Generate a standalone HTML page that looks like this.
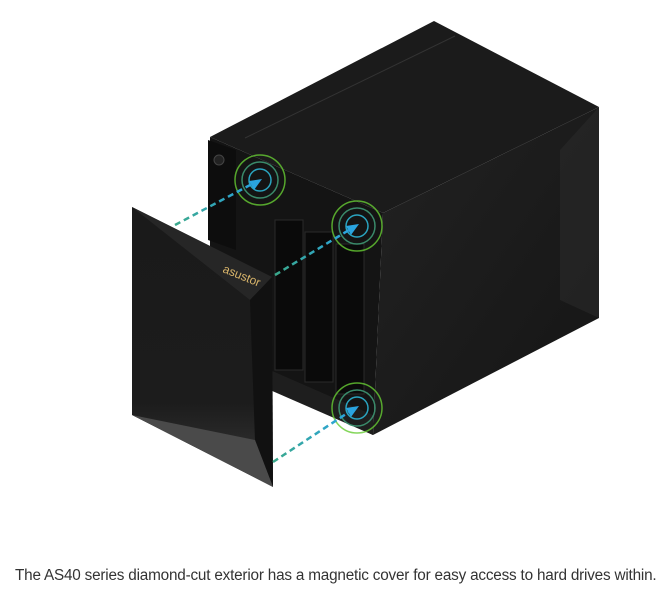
<!DOCTYPE html>
<html><head><style>
body{margin:0;background:#fff;width:671px;height:604px;overflow:hidden;font-family:"Liberation Sans",sans-serif}
.cap{position:absolute;left:15px;top:567px;font-size:15.3px;color:#333;white-space:nowrap;letter-spacing:-0.2px}
</style></head><body>
<svg width="671" height="560" style="position:absolute;left:0;top:0">
<defs>
<linearGradient id="rf" x1="0" y1="0" x2="1" y2="1"><stop offset="0" stop-color="#222"/><stop offset="1" stop-color="#151515"/></linearGradient>
<linearGradient id="cv" x1="0" y1="0" x2="0" y2="1"><stop offset="0" stop-color="#1a1a1a"/><stop offset="0.7" stop-color="#1c1c1c"/><stop offset="1" stop-color="#3a3a3a"/></linearGradient>
<linearGradient id="ar" x1="0" y1="0" x2="1" y2="0"><stop offset="0" stop-color="#3aa88a"/><stop offset="1" stop-color="#2aa4e0"/></linearGradient>
</defs>
<polygon points="210,137 434,21 599,107 383,213" fill="#1b1b1b"/>
<line x1="245" y1="138" x2="455" y2="36" stroke="#333" stroke-width="1"/>
<polygon points="383,213 599,107 599,318 373,435" fill="url(#rf)"/>
<polygon points="560,150 599,107 599,318 560,300" fill="#2a2a2a" opacity="0.6"/>
<polygon points="210,137 383,213 373,435 210,360" fill="#141414"/>
<polygon points="208,140 236,150 236,250 208,240" fill="#0d0d0d"/>
<circle cx="219" cy="160" r="5" fill="#222" stroke="#444"/>
<g fill="#0a0a0a" stroke="#2a2a2a">
<rect x="275" y="220" width="28" height="150"/><rect x="305" y="232" width="28" height="150"/><rect x="336" y="244" width="28" height="150"/>
</g>
<polygon points="270,390 373,435 373,415 270,370" fill="#1e1e1e"/>
<g fill="none">
<circle cx="260" cy="180" r="25" stroke="#6c3" stroke-width="1.5" opacity="0.8"/><circle cx="260" cy="180" r="18" stroke="#3a8a6a" stroke-width="1.5"/><circle cx="260" cy="180" r="11" stroke="#2aa4c0" stroke-width="1.5"/>
<circle cx="357" cy="226" r="25" stroke="#6c3" stroke-width="1.5" opacity="0.8"/><circle cx="357" cy="226" r="18" stroke="#3a8a6a" stroke-width="1.5"/><circle cx="357" cy="226" r="11" stroke="#2aa4c0" stroke-width="1.5"/>
<circle cx="357" cy="408" r="25" stroke="#6c3" stroke-width="1.5" opacity="0.8"/><circle cx="357" cy="408" r="18" stroke="#3a8a6a" stroke-width="1.5"/><circle cx="357" cy="408" r="11" stroke="#2aa4c0" stroke-width="1.5"/>
</g>
<polygon points="132,207 272,277 273,487 132,415" fill="url(#cv)"/>
<polygon points="132,207 272,277 250,300" fill="#262626"/>
<polygon points="250,300 272,277 273,487 255,440" fill="#111"/>
<polygon points="132,415 255,440 273,487" fill="#4a4a4a"/>
<text x="222" y="272" fill="#d9b56a" font-size="12" font-family="Liberation Sans,sans-serif" transform="rotate(22 222 272)">asustor</text>
<g stroke="url(#ar)" stroke-width="2.5" stroke-dasharray="6,4" fill="none">
<line x1="175" y1="225" x2="252" y2="184"/>
<line x1="275" y1="275" x2="349" y2="230"/>
<line x1="273" y1="462" x2="349" y2="412"/>
</g>
<g fill="#2aa4e0">
<polygon points="262,179 249,181 254,190"/>
<polygon points="359,224 346,226 351,235"/>
<polygon points="359,406 346,408 351,417"/>
</g>
</svg>
<div class="cap">The AS40 series diamond-cut exterior has a magnetic cover for easy access to hard drives within.</div>
</body></html>
